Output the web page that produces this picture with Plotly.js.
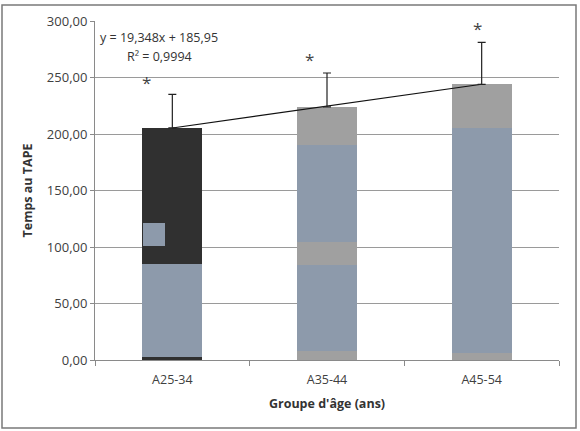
<!DOCTYPE html>
<html><head><meta charset="utf-8">
<script src="https://cdn.plot.ly/plotly-3.0.1.min.js"></script>
<style>html,body{margin:0;padding:0;background:#fff}#c{width:580px;height:431px}</style>
</head><body><div id="c"></div>
<script>
const categories = ['A25-34', 'A35-44', 'A45-54'];
const means = [205.5, 224.0, 244.0];
const errPlus = [29.5, 30.0, 37.0];
const trendValues = [205.3, 224.6, 244.0];
// stacked segments (scan appearance of the bars)
const seg1 = [3, 8, 6];
const seg2 = [82, 76, 199];
const seg3 = [120.5, 20, 39];
const seg4 = [0, 86, 0];
const seg5 = [0, 34, 0];
const patchBase = [101];
const patchHeight = [20];
const starX = [-0.17, 0.89, 1.97];
const starY = [246, 266, 293];
const yTicks = [0, 50, 100, 150, 200, 250, 300];
const equationText = 'y = 19,348x + 185,95';
const r2Text = 'R² = 0,9994';

const DARK = '#303030', BLUE = '#8d9aab', GREY = '#a0a0a0';
const W = 0.39;
function seg(y, colors) {
  return {type: 'bar', x: categories, y: y, width: W,
    marker: {color: colors, line: {width: 0}}, hoverinfo: 'skip', showlegend: false};
}
const traces = [
  seg(seg1, [DARK, GREY, GREY]),
  seg(seg2, [BLUE, BLUE, BLUE]),
  seg(seg3, [DARK, GREY, GREY]),
  seg(seg4, [BLUE, BLUE, BLUE]),
  seg(seg5, [GREY, GREY, GREY]),
  {type: 'bar', x: [categories[0]], y: patchHeight, base: patchBase, width: 0.14, offset: -0.19,
   marker: {color: BLUE}, showlegend: false, hoverinfo: 'skip'},
  {type: 'scatter', mode: 'lines', x: categories, y: trendValues,
   line: {color: '#111', width: 1.2}, showlegend: false, hoverinfo: 'skip'},
  {type: 'scatter', mode: 'markers', x: categories, y: means, marker: {size: 0.1, color: 'rgba(0,0,0,0)'},
   error_y: {type: 'data', symmetric: false, array: errPlus, arrayminus: [0, 0, 0], color: '#222', thickness: 1.2, width: 4},
   showlegend: false, hoverinfo: 'skip'}
];

const L = 95, R = 21, T = 21, B = 71;
const pw = 580 - L - R, ph = 431 - T - B;
const px = v => (v - L) / pw, py = v => 1 - (v - T) / ph;

const stars = starX.map((x, i) => ({x: x, y: starY[i], xref: 'x', yref: 'y', text: '*', showarrow: false,
  font: {size: 17, color: '#444'}}));

const layout = {
  width: 580, height: 431,
  margin: {l: L, r: R, t: T, b: B, pad: 0},
  barmode: 'stack',
  separators: ', ',
  paper_bgcolor: '#fff', plot_bgcolor: '#fff',
  font: {family: 'Open Sans, Liberation Sans, sans-serif', color: '#404040', size: 12},
  xaxis: {type: 'category', range: [-0.5, 2.5], showgrid: false, showline: true, linecolor: '#8a8a8a', linewidth: 1,
    ticks: 'outside', tickson: 'boundaries', ticklen: 5, tickcolor: '#8a8a8a', ticklabelstandoff: 8,
    tickfont: {size: 12.5, color: '#404040'},
    title: {text: "<b>Groupe d'âge (ans)</b>", font: {size: 12.5, color: '#333'}, standoff: 12}},
  yaxis: {range: [0, 300], tickvals: yTicks, tickformat: '.2f', showgrid: true, gridcolor: '#9a9a9a', gridwidth: 1,
    showline: true, linecolor: '#8a8a8a', ticks: 'outside', ticklen: 4, tickcolor: '#8a8a8a', zeroline: false,
    tickfont: {size: 13, color: '#404040'},
    title: {text: '<b>Temps au TAPE</b>', font: {size: 12.5, color: '#333'}, standoff: 11}},
  shapes: [
    {type: 'rect', xref: 'paper', yref: 'paper', x0: px(2), x1: px(576), y0: py(428), y1: py(5),
     line: {color: '#7a7a7a', width: 1.5}, fillcolor: 'rgba(0,0,0,0)', layer: 'below'}
  ],
  annotations: [
    {xref: 'paper', yref: 'paper', x: px(98), y: py(37), xanchor: 'left', yanchor: 'middle', text: equationText,
     showarrow: false, font: {size: 12.5, color: '#333'}},
    {xref: 'paper', yref: 'paper', x: px(125), y: py(56), xanchor: 'left', yanchor: 'middle', text: r2Text,
     showarrow: false, font: {size: 12.5, color: '#333'}}
  ].concat(stars)
};
Plotly.newPlot('c', traces, layout, {staticPlot: true, displayModeBar: false});
</script></body></html>
